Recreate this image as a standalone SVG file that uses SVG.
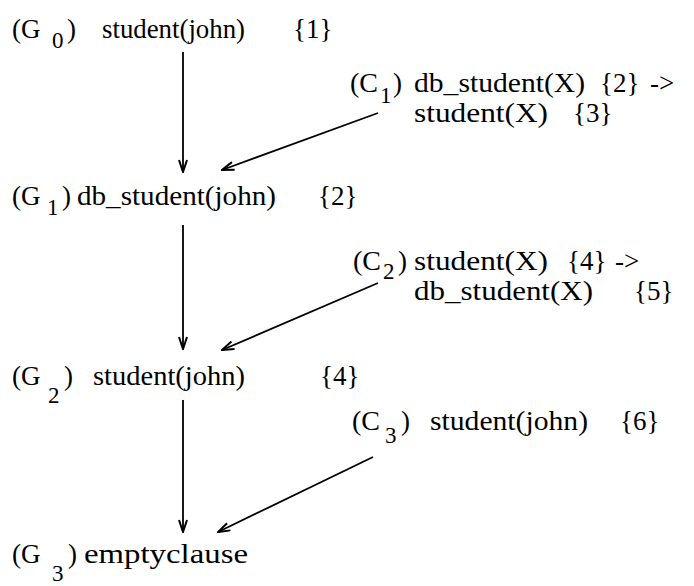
<svg xmlns="http://www.w3.org/2000/svg" width="694" height="586" viewBox="0 0 694 586">
  <style>
    text { font-family: 'Liberation Serif', 'Times New Roman', 'DejaVu Serif', serif; font-size: 27px; fill: #000; }
    .sub { font-size: 23px; }
    .edge { stroke: #000; stroke-width: 1.8; fill: none; }
  </style>
  <defs>
    <marker id="arrow" viewBox="0 0 14 10" refX="13" refY="5" markerWidth="14" markerHeight="10" markerUnits="userSpaceOnUse" orient="auto">
      <path d="M1,1 L13,5 L1,9" fill="none" stroke="#000" stroke-width="2"/>
    </marker>
  </defs>
  <rect width="694" height="586" fill="#fff"/>

  <!-- resolution steps (vertical) and input clauses (diagonal) -->
  <g id="connectors">
    <line class="edge" x1="183" y1="52" x2="183" y2="172" marker-end="url(#arrow)"/>
    <line class="edge" x1="378" y1="113" x2="222" y2="170" marker-end="url(#arrow)"/>
    <line class="edge" x1="183" y1="225" x2="183" y2="349" marker-end="url(#arrow)"/>
    <line class="edge" x1="378" y1="283" x2="222" y2="350" marker-end="url(#arrow)"/>
    <line class="edge" x1="183" y1="400" x2="183" y2="532" marker-end="url(#arrow)"/>
    <line class="edge" x1="373" y1="457" x2="218" y2="532" marker-end="url(#arrow)"/>
  </g>

  <g id="G0">
    <text x="12" y="38">(G</text><text class="sub" x="52" y="48">0</text><text x="67" y="38">)</text>
    <text x="102" y="38" textLength="143" lengthAdjust="spacingAndGlyphs">student(john)</text><text x="293" y="38">{1}</text>
  </g>
  <g id="C1">
    <text x="350" y="92" textLength="28" lengthAdjust="spacingAndGlyphs">(C</text><text class="sub" x="380" y="103">1</text><text x="393" y="92">)</text>
    <text x="414" y="92" textLength="171" lengthAdjust="spacingAndGlyphs">db_student(X)</text><text x="600" y="92">{2}</text><text x="650" y="92">-&gt;</text>
    <text x="414" y="122" textLength="134" lengthAdjust="spacingAndGlyphs">student(X)</text><text x="573" y="122">{3}</text>
  </g>
  <g id="G1">
    <text x="12" y="205">(G</text><text class="sub" x="47" y="215">1</text><text x="62" y="205">)</text>
    <text x="77" y="205" textLength="199" lengthAdjust="spacingAndGlyphs">db_student(john)</text><text x="318" y="205">{2}</text>
  </g>
  <g id="C2">
    <text x="353" y="270" textLength="28" lengthAdjust="spacingAndGlyphs">(C</text><text class="sub" x="383" y="279">2</text><text x="398" y="270">)</text>
    <text x="414" y="270" textLength="134" lengthAdjust="spacingAndGlyphs">student(X)</text><text x="567" y="270">{4}</text><text x="615" y="270">-&gt;</text>
    <text x="414" y="300" textLength="179" lengthAdjust="spacingAndGlyphs">db_student(X)</text><text x="634" y="300">{5}</text>
  </g>
  <g id="G2">
    <text x="12" y="385">(G</text><text class="sub" x="48" y="403">2</text><text x="64" y="385">)</text>
    <text x="93" y="385" textLength="152" lengthAdjust="spacingAndGlyphs">student(john)</text><text x="320" y="385">{4}</text>
  </g>
  <g id="C3">
    <text x="352" y="430" textLength="28" lengthAdjust="spacingAndGlyphs">(C</text><text class="sub" x="385" y="443">3</text><text x="401" y="430">)</text>
    <text x="430" y="430" textLength="158" lengthAdjust="spacingAndGlyphs">student(john)</text><text x="620" y="430">{6}</text>
  </g>
  <g id="G3">
    <text x="12" y="563">(G</text><text class="sub" x="52" y="581">3</text><text x="68" y="563">)</text>
    <text x="84" y="563" textLength="164" lengthAdjust="spacingAndGlyphs">emptyclause</text>
  </g>
</svg>
